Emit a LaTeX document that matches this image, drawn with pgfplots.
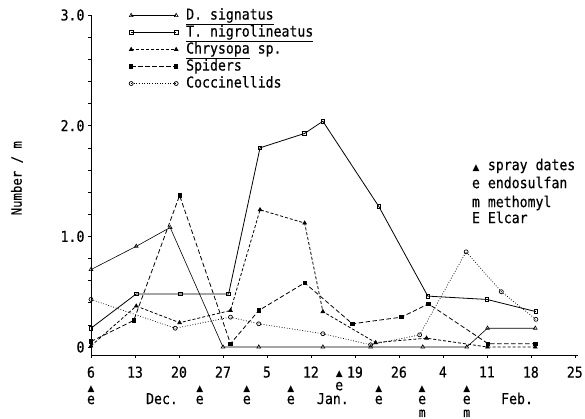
\documentclass[border=0pt]{standalone}
\usepackage{pgfplots}
\pgfplotsset{compat=1.18}
\usepackage{fontspec}
\setmainfont{DejaVu Sans Mono}[FakeStretch=0.88, FakeBold=0.4]
\newfontfamily\symfont{DejaVu Sans}
\newcommand{\tf}{\fontsize{15bp}{17bp}\selectfont}
\newcommand{\tri}{{\symfont\fontsize{9bp}{10bp}\selectfont ▲}}

\begin{document}
\begin{tikzpicture}
\path[use as bounding box] (-91bp,-64bp) rectangle (494bp,355bp);
\begin{axis}[
  at={(0,0)}, anchor=south west,
  scale only axis, width=487bp, height=340bp,
  xmin=0, xmax=77.5, ymin=-0.072, ymax=3.0,
  axis x line=bottom, axis y line=left,
  axis line style={-, line width=0.8bp},
  xtick={0,7,...,77},
  xticklabels={6,13,20,27,5,12,19,26,4,11,18,25},
  ytick={0,1,2,3}, yticklabels={0,1.0,2.0,3.0},
  minor y tick num=4,
  tick align=outside, major tick length=3bp, minor tick length=3bp,
  tick style={black, line width=0.6bp},
  ticklabel style={font=\tf},
  xticklabel style={yshift=-5bp},
  clip=false,
  legend style={at={(axis description cs:0.078,1.024)}, anchor=north west,
    draw=none, fill=none, inner sep=0pt, row sep=0pt, font=\tf,
    nodes={inner xsep=8bp, inner ysep=1.5bp, text height=11bp, text depth=3bp}},
  legend cell align=left,
  legend image code/.code={\draw[#1] plot coordinates {(0bp,0bp) (45bp,0bp)};},
]
% D. signatus
\addplot[black, line width=0.6bp, mark=triangle, mark size=2.2bp, mark options={solid}] coordinates {
  (0,0.70) (7.2,0.91) (12.6,1.08) (21.0,0.0) (26.7,0.0) (36.9,0.0)
  (44.5,0.0) (52.8,0.0) (59.8,0.0) (63.1,0.17) (70.7,0.17)
};
\addlegendentry{\underline{D. signatus}}
% T. nigrolineatus
\addplot[black, line width=0.8bp, mark=square, mark size=1.8bp, mark options={solid}] coordinates {
  (0,0.17) (7.2,0.48) (14.2,0.48) (21.9,0.48) (26.9,1.80) (34.0,1.93)
  (36.9,2.04) (45.8,1.27) (53.6,0.46) (63.0,0.43) (70.8,0.32)
};
\addlegendentry{\underline{T. nigrolineatus}}
% Chrysopa sp.
\addplot[black, line width=0.8bp, dash pattern=on 3bp off 2bp, mark=triangle*, mark size=2bp, mark options={solid}] coordinates {
  (0,0.01) (7.2,0.37) (14.1,0.22) (22.2,0.33) (26.9,1.24) (34.0,1.12)
  (36.9,0.32) (45.3,0.04) (53.4,0.08) (63.1,0.0) (70.7,0.0)
};
\addlegendentry{\underline{Chrysopa} sp.}
% Spiders
\addplot[black, line width=0.8bp, dash pattern=on 4.5bp off 2.5bp, mark=square*, mark size=1.7bp, mark options={solid}] coordinates {
  (0,0.05) (6.8,0.24) (14.1,1.37) (22.2,0.03) (26.7,0.33) (34.0,0.58)
  (41.6,0.21) (49.4,0.27) (53.7,0.39) (63.2,0.03) (70.7,0.03)
};
\addlegendentry{Spiders}
% Coccinellids
\addplot[black, line width=0.7bp, dash pattern=on 0.8bp off 1.8bp, mark=o, mark size=2bp, mark options={solid}] coordinates {
  (0,0.43) (13.4,0.17) (22.2,0.27) (26.7,0.21) (36.9,0.12) (44.5,0.02)
  (52.3,0.11) (59.7,0.86) (65.3,0.50) (70.8,0.25)
};
\addlegendentry{Coccinellids}

% spray dates below the axis
\pgfplotsinvokeforeach{0,17.3,24.8,31.8,45.8,52.7,59.8}{
  \node[inner sep=0pt] at (axis cs:#1,-0.38) {\tri};
  \node[anchor=base, font=\tf, inner sep=0pt] at (axis cs:#1,-0.515) {e};
}
\node[inner sep=0pt] at (axis cs:39.5,-0.245) {\tri};
\node[anchor=base, font=\tf, inner sep=0pt] at (axis cs:39.5,-0.39) {e};
\node[anchor=base, font=\fontsize{13bp}{14bp}\selectfont, inner sep=0pt] at (axis cs:52.7,-0.632) {m};
\node[anchor=base, font=\fontsize{13bp}{14bp}\selectfont, inner sep=0pt] at (axis cs:59.8,-0.632) {m};
\node[anchor=base, font=\tf, inner sep=0pt] at (axis cs:11.3,-0.515) {Dec.};
\node[anchor=base, font=\tf, inner sep=0pt] at (axis cs:38.5,-0.515) {Jan.};
\node[anchor=base, font=\tf, inner sep=0pt] at (axis cs:67.8,-0.515) {Feb.};

% key to the spray symbols
\node[anchor=base west, font=\tf, inner sep=0pt] at (axis cs:60.6,1.599) {\makebox[0.53em][c]{\tri} spray dates};
\node[anchor=base west, font=\tf, inner sep=0pt] at (axis cs:60.6,1.436) {e endosulfan};
\node[anchor=base west, font=\tf, inner sep=0pt] at (axis cs:60.6,1.264) {m methomyl};
\node[anchor=base west, font=\tf, inner sep=0pt] at (axis cs:60.6,1.120) {E Elcar};

% y label
\node[rotate=90, font=\fontsize{14bp}{16bp}\selectfont] at (axis description cs:-0.152,0.52) {Number / m};
\end{axis}
\end{tikzpicture}
\end{document}
